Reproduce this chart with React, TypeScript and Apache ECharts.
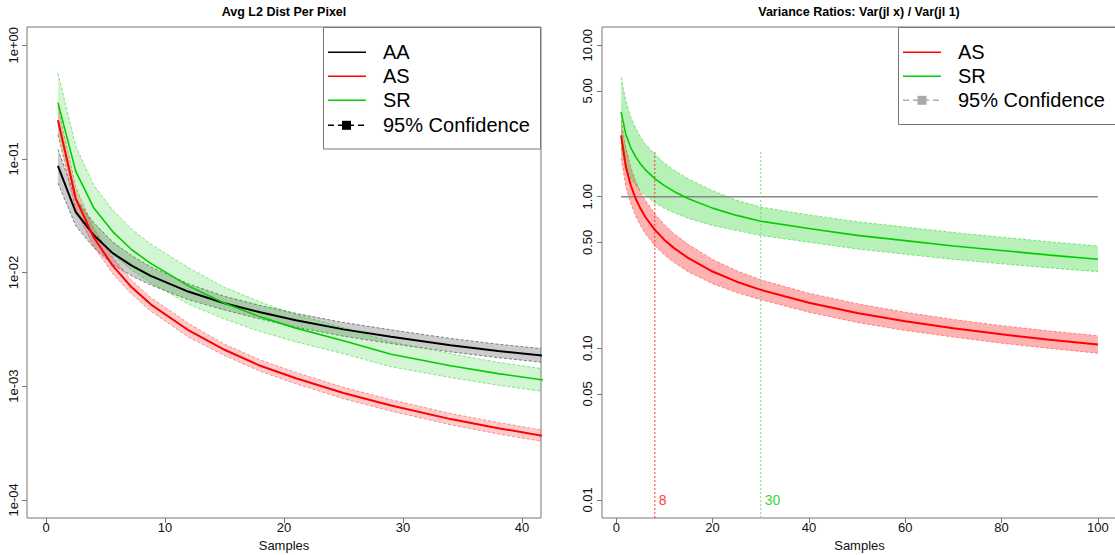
import React, { useEffect, useRef } from "react";
import * as echarts from "echarts";

// ---------- Left panel: Avg L2 Dist Per Pixel ----------
const L_X = [1, 2.5, 4, 5.6, 7.2, 8.8, 12, 15, 18, 21, 25, 29, 34, 38, 43];
const AA_MEAN = [0.0867, 0.0339, 0.0214, 0.0148, 0.01148, 0.00933, 0.00676, 0.00537, 0.00447, 0.0038, 0.00316, 0.00272, 0.00229, 0.00204, 0.0018];
const AA_UP = [0.1216, 0.0447, 0.0275, 0.0186, 0.0141, 0.0112, 0.00794, 0.00617, 0.00513, 0.00437, 0.00363, 0.00313, 0.00263, 0.00234, 0.00207];
const AA_LO = [0.0611, 0.0257, 0.0166, 0.01175, 0.00933, 0.00776, 0.00575, 0.00468, 0.00389, 0.00331, 0.00275, 0.00237, 0.002, 0.00178, 0.00157];
const AS_MEAN = [0.2188, 0.0447, 0.0204, 0.01148, 0.00741, 0.00525, 0.00309, 0.00209, 0.00151, 0.001175, 0.000871, 0.000676, 0.000513, 0.000427, 0.000347];
const AS_UP = [0.288, 0.0562, 0.0245, 0.0135, 0.00851, 0.00603, 0.00355, 0.00234, 0.0017, 0.00132, 0.000977, 0.000759, 0.000575, 0.000479, 0.000389];
const AS_LO = [0.162, 0.0355, 0.017, 0.00977, 0.00646, 0.00457, 0.00269, 0.00186, 0.00135, 0.00105, 0.000776, 0.000603, 0.000457, 0.00038, 0.000309];
const SR_MEAN = [0.3126, 0.0776, 0.0372, 0.0229, 0.01585, 0.01202, 0.00759, 0.00537, 0.00407, 0.00324, 0.00251, 0.00191, 0.00151, 0.00129, 0.001084];
const SR_UP = [0.5689, 0.1288, 0.0589, 0.0355, 0.024, 0.01778, 0.01096, 0.00741, 0.0055, 0.00427, 0.00327, 0.00245, 0.00193, 0.00162, 0.00136];
const SR_LO = [0.164, 0.0447, 0.0229, 0.01445, 0.01047, 0.00813, 0.00525, 0.00389, 0.00302, 0.00245, 0.00193, 0.00148, 0.00119, 0.00102, 0.000861];
const L_XTICKS = [0, 10, 20, 30, 40];
const L_YTICKS = [1e-4, 1e-3, 1e-2, 1e-1, 1];

// ---------- Right panel: Variance Ratios ----------
const R_X = [1, 2, 3, 4, 5, 6, 8, 10, 12, 15, 20, 25, 30, 40, 50, 60, 70, 80, 90, 100];
const ASR_MEAN = [2.54, 1.574, 1.191, 0.977, 0.838, 0.738, 0.605, 0.519, 0.458, 0.393, 0.321, 0.275, 0.243, 0.1995, 0.171, 0.151, 0.1355, 0.1236, 0.114, 0.106];
const ASR_UP = [3.2, 2.12, 1.57, 1.274, 1.079, 0.951, 0.771, 0.653, 0.57, 0.483, 0.386, 0.325, 0.283, 0.231, 0.197, 0.173, 0.155, 0.141, 0.13, 0.121];
const ASR_LO = [1.8, 1.167, 0.904, 0.75, 0.65, 0.573, 0.475, 0.412, 0.368, 0.319, 0.267, 0.233, 0.209, 0.173, 0.148, 0.131, 0.1186, 0.108, 0.0998, 0.0927];
const SRR_MEAN = [3.63, 2.57, 2.11, 1.84, 1.65, 1.51, 1.318, 1.183, 1.084, 0.97, 0.841, 0.753, 0.689, 0.617, 0.556, 0.513, 0.473, 0.442, 0.412, 0.387];
const SRR_UP = [6.17, 4.27, 3.35, 2.85, 2.5, 2.24, 1.905, 1.67, 1.496, 1.309, 1.096, 0.948, 0.855, 0.759, 0.684, 0.631, 0.581, 0.541, 0.504, 0.473];
const SRR_LO = [2.09, 1.549, 1.334, 1.189, 1.091, 1.023, 0.912, 0.838, 0.785, 0.719, 0.646, 0.598, 0.555, 0.501, 0.452, 0.417, 0.386, 0.361, 0.339, 0.32];
const R_XTICKS = [0, 20, 40, 60, 80, 100];
const R_YTICKS = [0.01, 0.05, 0.1, 0.5, 1, 5, 10];
const REF_LINE_X = [1, 100];
const REF_LINE_Y = 1;
const CUTOFFS = [8, 30];
const CUTOFF_TOP = 2;

const FONT = '"Liberation Sans", Arial, Helvetica, sans-serif';
const GREEN = "#00cd00";
const RED = "#ff0000";
const lg = (v: number) => Math.log10(v);

function band(xs: number[], lo: number[], up: number[], fill: string, border: string, gi: number) {
  return {
    type: "custom",
    xAxisIndex: gi,
    yAxisIndex: gi,
    silent: true,
    clip: true,
    z: 1,
    data: xs.map((x, i) => [x, lg(lo[i]), lg(up[i])]),
    renderItem: (params: any, api: any) => {
      if (params.dataIndex !== 0) return { type: "group", children: [] };
      const n = xs.length;
      const upper: number[][] = [];
      const lower: number[][] = [];
      for (let i = 0; i < n; i++) {
        const x = api.value(0, i);
        lower.push(api.coord([x, api.value(1, i)]));
        upper.push(api.coord([x, api.value(2, i)]));
      }
      const cs = params.coordSys;
      return {
        type: "group",
        clipPath: { type: "rect", shape: { x: cs.x, y: cs.y, width: cs.width, height: cs.height } },
        children: [
          { type: "polygon", shape: { points: upper.concat(lower.slice().reverse()) }, style: { fill, stroke: "none" } },
          { type: "polyline", shape: { points: upper }, style: { stroke: border, lineWidth: 1, lineDash: [3, 2], fill: "none" } },
          { type: "polyline", shape: { points: lower }, style: { stroke: border, lineWidth: 1, lineDash: [3, 2], fill: "none" } },
        ],
      };
    },
  };
}

function meanLine(xs: number[], ys: number[], color: string, width: number, gi: number) {
  return {
    type: "line",
    xAxisIndex: gi,
    yAxisIndex: gi,
    symbol: "none",
    silent: true,
    z: 3,
    color,
    lineStyle: { color, width },
    data: xs.map((x, i) => [x, lg(ys[i])]),
  };
}

export default function App() {
  const ref = useRef<HTMLDivElement>(null);
  useEffect(() => {
    if (!ref.current) return;
    const chart = echarts.init(ref.current, null, { renderer: "svg" });
    const axisText = { fontFamily: FONT, fontSize: 13, color: "#111" };
    const xAxisBase = (gi: number, min: number, max: number, ticks: number[]) => ({
      type: "value",
      gridIndex: gi,
      min,
      max,
      axisLine: { show: false, onZero: false },
      splitLine: { show: false },
      axisTick: { show: true, customValues: ticks, length: 5, lineStyle: { color: "#777" } },
      axisLabel: { customValues: ticks, margin: 3, ...axisText },
      name: "Samples",
      nameLocation: "middle",
      nameGap: 17,
      nameTextStyle: { ...axisText },
    });
    const yAxisBase = (gi: number, min: number, max: number, ticks: number[], fmt: (v: number) => string, margin: number) => ({
      type: "value",
      gridIndex: gi,
      min,
      max,
      axisLine: { show: false, onZero: false },
      splitLine: { show: false },
      axisTick: { show: true, customValues: ticks.map(lg), length: 5, lineStyle: { color: "#777" } },
      axisLabel: { customValues: ticks.map(lg), rotate: 90, margin, formatter: fmt, ...axisText },
    });
    const leftFmt = (v: number) => {
      const n = Math.round(v);
      return n === 0 ? "1e+00" : "1e-0" + -n;
    };
    const rightFmt = (v: number) => Math.pow(10, v).toFixed(2);

    const series: any[] = [
      band(L_X, AA_LO, AA_UP, "rgba(0,0,0,0.2)", "rgba(0,0,0,0.45)", 0),
      band(L_X, AS_LO, AS_UP, "rgba(255,0,0,0.2)", "rgba(255,0,0,0.4)", 0),
      band(L_X, SR_LO, SR_UP, "rgba(0,205,0,0.18)", "rgba(0,205,0,0.45)", 0),
      meanLine(L_X, AA_MEAN, "#000000", 2, 0),
      meanLine(L_X, AS_MEAN, RED, 2, 0),
      meanLine(L_X, SR_MEAN, GREEN, 1.6, 0),
      band(R_X, ASR_LO, ASR_UP, "rgba(255,0,0,0.3)", "rgba(255,0,0,0.4)", 1),
      band(R_X, SRR_LO, SRR_UP, "rgba(0,205,0,0.28)", "rgba(0,205,0,0.45)", 1),
      {
        type: "line",
        xAxisIndex: 1,
        yAxisIndex: 1,
        symbol: "none",
        silent: true,
        z: 2,
        color: "#888888",
        lineStyle: { color: "#888888", width: 1.3 },
        data: REF_LINE_X.map((x) => [x, lg(REF_LINE_Y)]),
      },
      meanLine(R_X, ASR_MEAN, RED, 2, 1),
      meanLine(R_X, SRR_MEAN, GREEN, 1.6, 1),
      ...CUTOFFS.map((c, i) => {
        const col = i === 0 ? "#ff3333" : "#77dd77";
        return {
          type: "line",
          xAxisIndex: 1,
          yAxisIndex: 1,
          symbol: "none",
          silent: true,
          z: 2,
          color: col,
          lineStyle: { color: col, width: 1, type: [2, 2] },
          data: [
            [c, -2.12],
            [c, lg(CUTOFF_TOP)],
          ],
        };
      }),
      {
        type: "scatter",
        xAxisIndex: 1,
        yAxisIndex: 1,
        symbolSize: 0,
        silent: true,
        itemStyle: { color: "transparent" },
        label: {
          show: true,
          position: "right",
          distance: 4,
          fontFamily: FONT,
          fontSize: 14,
          formatter: (p: any) => String(p.value[0]),
        },
        data: CUTOFFS.map((c, i) => ({ value: [c, lg(0.01)], label: { color: i === 0 ? RED : GREEN } })),
      },
    ];

    const legendText = (x: number, y: number, t: string) => ({
      type: "text",
      x,
      y,
      z: 20,
      style: { text: t, font: `20px ${FONT}`, fill: "#000", verticalAlign: "middle", align: "left" },
    });
    const legendLine = (x1: number, x2: number, y: number, color: string, dashed = false) => ({
      type: "line",
      z: 20,
      shape: { x1, y1: y, x2, y2: y },
      style: { stroke: color, lineWidth: 1.5, lineDash: dashed ? [6, 4] : null },
    });
    const legendSquare = (cx: number, cy: number, color: string) => ({
      type: "rect",
      z: 21,
      shape: { x: cx - 4.5, y: cy - 4.5, width: 9, height: 9 },
      style: { fill: color },
    });
    const rows = [52.3, 76.3, 100.3, 125.3];

    const graphic: any[] = [
      {
        type: "text",
        x: 284,
        y: 11.5,
        style: { text: "Avg L2 Dist Per Pixel", font: `bold 12.5px ${FONT}`, fill: "#000", align: "center", verticalAlign: "middle" },
      },
      {
        type: "text",
        x: 859,
        y: 11.5,
        style: { text: "Variance Ratios: Var(jl x) / Var(jl 1)", font: `bold 12.5px ${FONT}`, fill: "#000", align: "center", verticalAlign: "middle" },
      },
      { type: "rect", z: 19, shape: { x: 323.5, y: 27.5, width: 217, height: 121.5 }, style: { fill: "#fff", stroke: "#777", lineWidth: 1 } },
      legendLine(328, 366, rows[0], "#000"),
      legendLine(328, 366, rows[1], RED),
      legendLine(328, 366, rows[2], GREEN),
      legendLine(328, 366, rows[3], "#000", true),
      legendSquare(346.5, rows[3], "#000"),
      legendText(383, rows[0], "AA"),
      legendText(383, rows[1], "AS"),
      legendText(383, rows[2], "SR"),
      legendText(383, rows[3], "95% Confidence"),
      { type: "rect", z: 19, shape: { x: 898.5, y: 27.5, width: 240, height: 97 }, style: { fill: "#fff", stroke: "#777", lineWidth: 1 } },
      legendLine(903, 941, rows[0], RED),
      legendLine(903, 941, rows[1], GREEN),
      legendLine(903, 941, rows[2], "#aaa", true),
      legendSquare(922, rows[2], "#aaa"),
      legendText(958, rows[0], "AS"),
      legendText(958, rows[1], "SR"),
      legendText(958, rows[2], "95% Confidence"),
    ];

    chart.setOption({
      animation: false,
      backgroundColor: "#fff",
      grid: [
        { left: 27, right: 574, top: 27, bottom: 37, show: true, borderColor: "#777", borderWidth: 1, backgroundColor: "transparent", outerBoundsMode: "none", containLabel: false },
        { left: 602, right: -2, top: 27, bottom: 37, show: true, borderColor: "#777", borderWidth: 1, backgroundColor: "transparent", outerBoundsMode: "none", containLabel: false },
      ],
      xAxis: [xAxisBase(0, -1.6, 41.6, L_XTICKS), xAxisBase(1, -2.96, 103.96, R_XTICKS)],
      yAxis: [
        yAxisBase(0, -4.16, 0.16, L_YTICKS, leftFmt, 7),
        yAxisBase(1, -2.12, 1.12, R_YTICKS, rightFmt, 8),
      ],
      series,
      graphic,
    });
    return () => chart.dispose();
  }, []);
  return <div ref={ref} style={{ position: "fixed", left: 0, top: 0, width: 1115, height: 555 }} />;
}
